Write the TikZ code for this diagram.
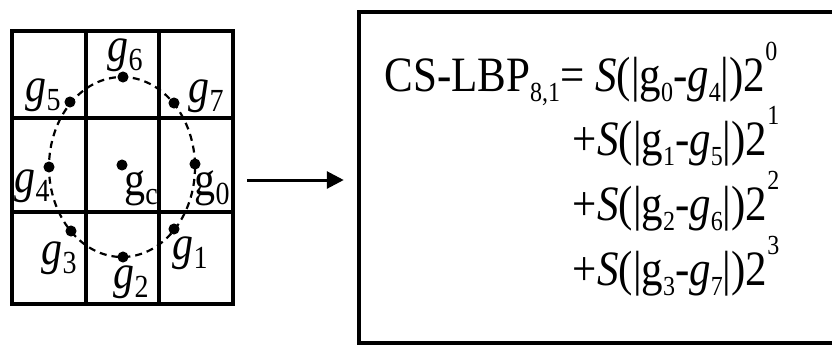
\documentclass[tikz,border=0pt]{standalone}
\usepackage{fontspec}
\usepackage{graphicx}
\setmainfont{Liberation Serif}
\usetikzlibrary{arrows.meta}
\newcommand\tall[1]{\scalebox{1}[1.15]{#1}}
\newcommand\lo[1]{\raisebox{-0.22em}{\fontsize{24}{24}\selectfont #1}}
\newcommand\hi[1]{\raisebox{0.62em}{\fontsize{24}{24}\selectfont #1}}
\newcommand\glo[1]{\raisebox{-0.2em}{\fontsize{28}{28}\selectfont #1}}
\begin{document}
\begin{tikzpicture}[x=1pt,y=-1pt,
  frame/.style={draw, line width=4.5pt, inner sep=0pt},
  gridline/.style={line width=3.5pt},
  dotnode/.style={circle, draw, fill, line width=1pt, inner sep=0pt, minimum size=10pt},
  lbl/.style={inner sep=0pt, font=\fontsize{42}{48}\selectfont},
  eq/.style={inner sep=0pt, anchor=base west, font=\fontsize{43}{52}\selectfont},
  conn/.style={line width=3pt, -{Triangle[length=17pt,width=17pt]}},
  ring/.style={dash pattern=on 7pt off 5pt, line width=2.2pt}
]
\useasboundingbox (0,0) rectangle (832,346);
% grid
\node[frame, minimum width=221pt, minimum height=273pt] (grid) at (122.5,167.5) {};
\draw[gridline] (86,31) -- (86,304);
\draw[gridline] (159,31) -- (159,304);
\draw[gridline] (12,118) -- (233,118);
\draw[gridline] (12,212) -- (233,212);
% dashed circle
\draw[ring] (122,167) ellipse [x radius=73, y radius=90];
% dots
\node[dotnode] (d0) at (195,164) {};
\node[dotnode] (d1) at (174,229) {};
\node[dotnode] (d2) at (123,257) {};
\node[dotnode] (d3) at (71,231) {};
\node[dotnode] (d4) at (49,167) {};
\node[dotnode] (d5) at (70,102) {};
\node[dotnode] (d6) at (123,77) {};
\node[dotnode] (d7) at (174,103) {};
\node[dotnode] (dc) at (122,165) {};
% labels
\node[lbl] (l6) at (125,55) {\tall{\textit{g}\glo{6}}};
\node[lbl] (l5) at (43,95) {\tall{\textit{g}\glo{5}}};
\node[lbl] (l7) at (206,96) {\tall{\textit{g}\glo{7}}};
\node[lbl] (l4) at (32,186) {\tall{\textit{g}\glo{4}}};
\node[lbl] (lc) at (141,188) {\tall{g\glo{c}}};
\node[lbl] (l0) at (212,188) {\tall{g\glo{0}}};
\node[lbl] (l3) at (59,258) {\tall{\textit{g}\glo{3}}};
\node[lbl] (l2) at (131,282) {\tall{\textit{g}\glo{2}}};
\node[lbl] (l1) at (190,253) {\tall{\textit{g}\glo{1}}};
% formula box
\node[frame, minimum width=481pt, minimum height=331pt] (box) at (599.5,177.5) {};
\node[eq] (f1) at (595,91) {\tall{\llap{CS-LBP\lo{8,1}= }\textit{S}(|g\lo{0}-\textit{g}\lo{4}|)2\hi{0}}};
\node[eq] (f2) at (597,155) {\tall{\llap{+}\textit{S}(|g\lo{1}-\textit{g}\lo{5}|)2\hi{1}}};
\node[eq] (f3) at (597,220) {\tall{\llap{+}\textit{S}(|g\lo{2}-\textit{g}\lo{6}|)2\hi{2}}};
\node[eq] (f4) at (597,285) {\tall{\llap{+}\textit{S}(|g\lo{3}-\textit{g}\lo{7}|)2\hi{3}}};
% arrow
\coordinate (ay) at (0,180);
\draw[conn, shorten <=12pt, shorten >=13pt] (grid.east |- ay) -- (box.west |- ay);
\end{tikzpicture}
\end{document}
